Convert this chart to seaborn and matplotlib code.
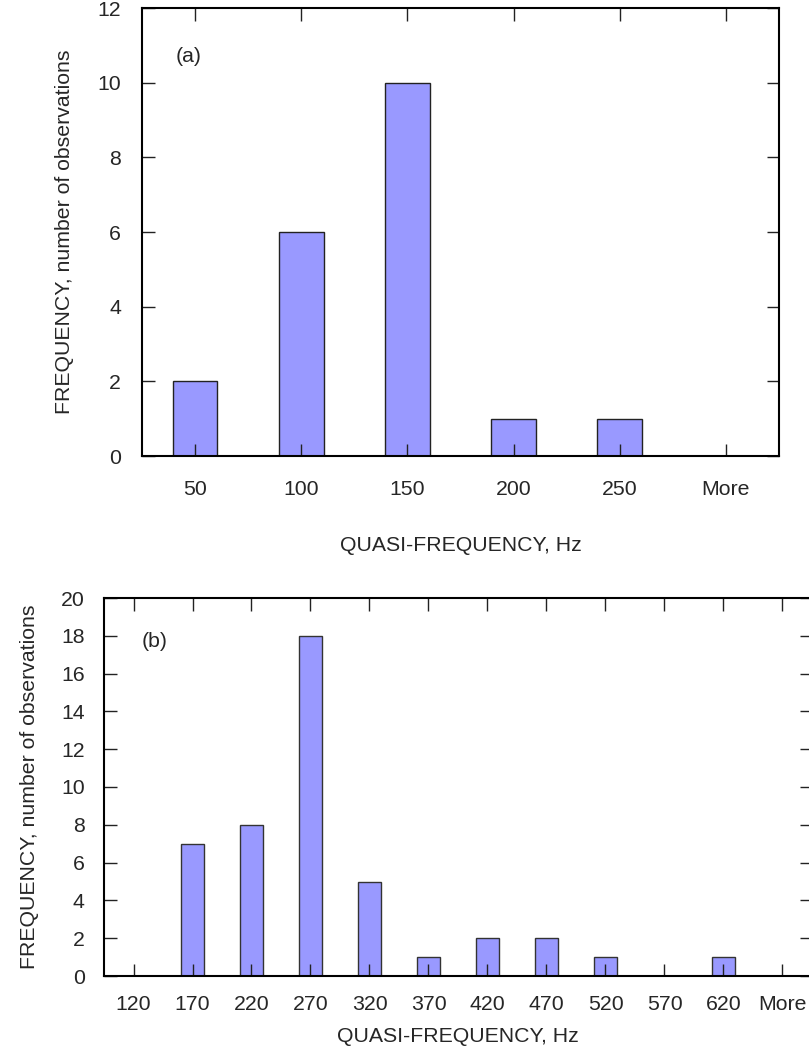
import matplotlib
matplotlib.use("Agg")
import matplotlib.pyplot as plt
import seaborn as sns
import pandas as pd

# Panel (a)
cats_a = ["50", "100", "150", "200", "250", "More"]
vals_a = [2, 6, 10, 1, 1, 0]
# Panel (b)
cats_b = ["120", "170", "220", "270", "320", "370", "420", "470", "520", "570", "620", "More"]
vals_b = [0, 7, 8, 18, 5, 1, 2, 2, 1, 0, 1, 0]

xlabel = "QUASI-FREQUENCY, Hz"
ylabel = "FREQUENCY, number of observations"

sns.set_theme(style="white")
plt.rcParams["font.family"] = ["Liberation Sans", "DejaVu Sans"]
plt.rcParams["axes.linewidth"] = 1.5
plt.rcParams["axes.edgecolor"] = "black"

FS = 15.3
BAR = "#9999FF"

fig = plt.figure(figsize=(8.09, 10.59), dpi=100)
W, H = 809, 1059

def add_axes(l, r, t, b):
    return fig.add_axes([l / W, 1 - b / H, (r - l) / W, (b - t) / H])

ax1 = add_axes(142, 779, 8, 456)
ax2 = add_axes(104, 812, 598, 976)

df_a = pd.DataFrame({"cat": cats_a, "val": vals_a})
df_b = pd.DataFrame({"cat": cats_b, "val": vals_b})

sns.barplot(data=df_a, x="cat", y="val", ax=ax1, color=BAR, saturation=1,
            width=0.42, edgecolor="#222222", linewidth=1.0, errorbar=None)
sns.barplot(data=df_b, x="cat", y="val", ax=ax2, color=BAR, saturation=1,
            width=0.4, edgecolor="#333333", linewidth=1.0, errorbar=None)

for ax, ymax, lab, ypad, xpad, ty in [(ax1, 12, "(a)", 15, 17, 0.892), (ax2, 20, "(b)", 14, 14, 0.884)]:
    ax.set_axisbelow(False)
    ax.set_ylim(0, ymax)
    ax.set_yticks(range(0, ymax + 1, 2))
    ax.set_xlim(-0.5, len(ax.get_xticks()) - 0.5)
    for s in ax.spines.values():
        s.set_visible(True)
        s.set_linewidth(1.5)
        s.set_color("black")
        s.set_zorder(3)
    ax.tick_params(axis="both", which="major", direction="in", length=9,
                   width=1.0, color="#222222", labelsize=FS,
                   top=True, right=True, bottom=True, left=True)
    ax.tick_params(axis="x", pad=xpad)
    ax.tick_params(axis="y", pad=ypad)
    ax.text(0.053, ty, lab, transform=ax.transAxes,
            fontsize=FS, ha="left", va="center")
    ax.grid(False)

ax1.set_xlabel(xlabel, fontsize=FS, labelpad=27)
ax1.set_ylabel(ylabel, fontsize=FS, labelpad=17)
ax2.set_xlabel(xlabel, fontsize=FS, labelpad=9)
ax2.set_ylabel(ylabel, fontsize=FS, labelpad=16)

fig.savefig("out.png", dpi=100)
